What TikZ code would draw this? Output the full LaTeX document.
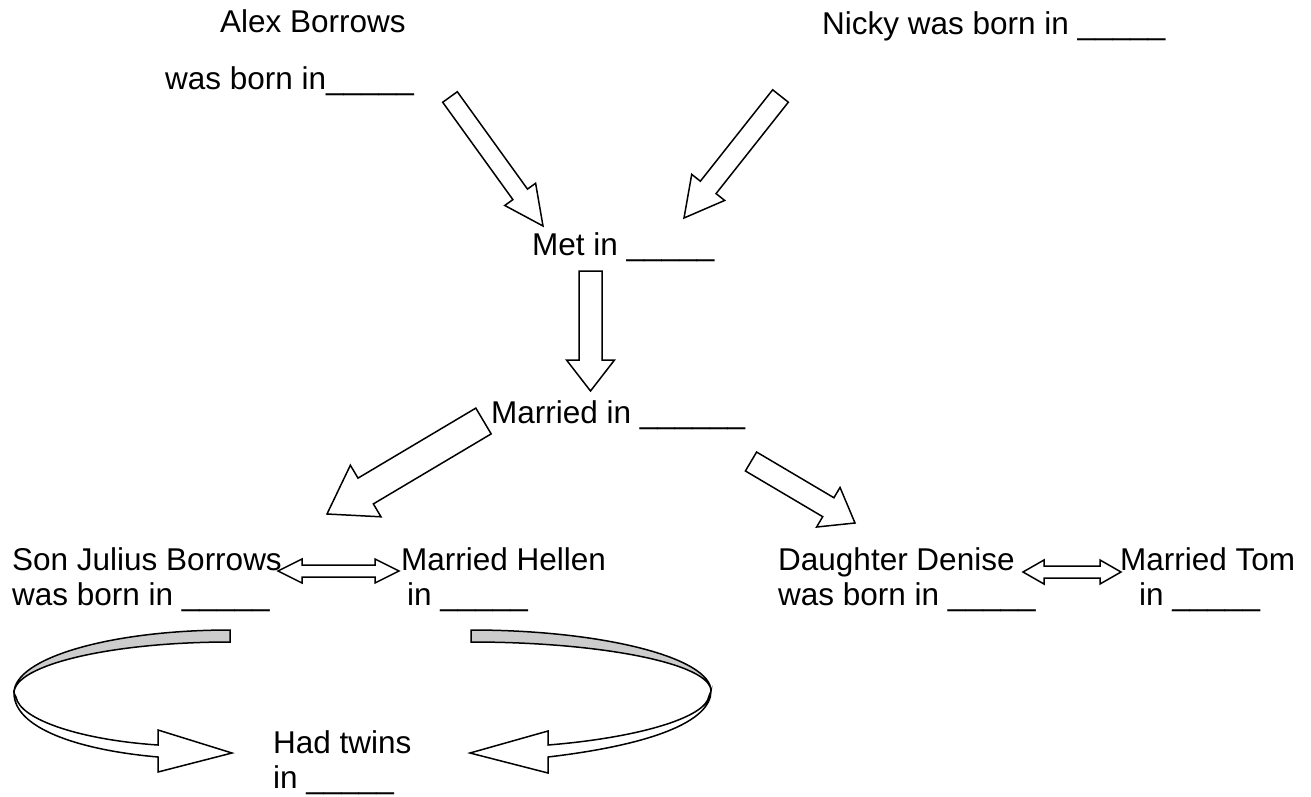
\documentclass[tikz,border=0pt]{standalone}
\usepackage{fontspec}
\setmainfont{Liberation Sans}
\usetikzlibrary{calc}

\tikzset{
  lbl/.style={anchor=base west, inner sep=0pt, align=left,
    font=\fontsize{31.5}{35}\selectfont},
  blk/.style={draw, line width=1.5pt, fill=white, line join=miter},
}

% block arrow: tail, tip, shaft half width, head half width, head length
\newcommand{\blockarrow}[5]{%
  \coordinate (hb) at ($(#2)!#5!(#1)$);
  \draw[blk] ($(#1)!#3!90:(#2)$) -- ($(hb)!#3!90:(#2)$) -- ($(hb)!#4!90:(#2)$) -- (#2)
    -- ($(hb)!#4!-90:(#2)$) -- ($(hb)!#3!-90:(#2)$) -- ($(#1)!#3!-90:(#2)$) -- cycle;
}
% arrow with two heads
\newcommand{\dblarrow}[5]{%
  \coordinate (ha) at ($(#1)!#5!(#2)$);
  \coordinate (hb) at ($(#2)!#5!(#1)$);
  \draw[blk] (#1) -- ($(ha)!#4!90:(#2)$) -- ($(ha)!#3!90:(#2)$) -- ($(hb)!#3!-90:(#1)$)
    -- ($(hb)!#4!-90:(#1)$) -- (#2) -- ($(hb)!#4!90:(#1)$) -- ($(hb)!#3!90:(#1)$)
    -- ($(ha)!#3!-90:(#2)$) -- ($(ha)!#4!-90:(#2)$) -- cycle;
}

\begin{document}
\begin{tikzpicture}[x=1pt,y=-1pt]
  \useasboundingbox (0,0) rectangle (1311,797);

  % texts (two-line ones are placed at the baseline of their last line)
  \node[lbl] (alex) at (220,33) {Alex Borrows};
  \node[lbl] (alexborn) at (165,90) {was born in\_\_\_\_\_};
  \node[lbl] (nicky) at (822,35) {Nicky was born in \_\_\_\_\_};
  \node[lbl] (met) at (532,255) {Met in \_\_\_\_\_};
  \node[lbl] (married) at (491,423) {Married in \_\_\_\_\_\_};
  \node[lbl] (son) at (12,605) {Son Julius Borrows\\was born in \_\_\_\_\_};
  \node[lbl] (hellen) at (401,605) {Married Hellen\\\hspace*{6pt}in \_\_\_\_\_};
  \node[lbl] (denise) at (778,605) {Daughter Denise\\was born in \_\_\_\_\_};
  \node[lbl] (tom) at (1120,605) {Married Tom\\\hspace*{19pt}in \_\_\_\_\_};
  \node[lbl] (twins) at (273,788) {Had twins\\in \_\_\_\_\_};

  % arrow ends
  \coordinate (alexA) at (450,97);    \coordinate (alexB) at (543,226);
  \coordinate (nickyA) at (780.5,96); \coordinate (nickyB) at (684,218);
  \coordinate (metA) at (590.5,271);  \coordinate (metB) at (590.5,391);
  \coordinate (sonA) at (483.5,421);  \coordinate (sonB) at (327,514);
  \coordinate (daugA) at (751,461.5); \coordinate (daugB) at (855,523);
  \coordinate (hellA) at (278,571);   \coordinate (hellB) at (399,571);
  \coordinate (tomA) at (1023,572);   \coordinate (tomB) at (1121,572);

  \foreach \a/\b/\s/\h/\l in {alexA/alexB/9pt/19pt/39pt, nickyA/nickyB/10pt/21pt/39pt,
      metA/metB/11.5pt/24pt/31pt, sonA/sonB/15pt/30pt/45pt, daugA/daugB/11pt/23pt/31pt}
    \blockarrow{\a}{\b}{\s}{\h}{\l};
  \dblarrow{hellA}{hellB}{6pt}{12pt}{24pt}
  \dblarrow{tomA}{tomB}{6pt}{12pt}{21pt}

  % curved arrows to the twins
  \draw[blk, fill=gray!40] (230,630) .. controls (110.7,630) and (14,658) .. (14,693)
    .. controls (14,665) and (110.7,642) .. (230,642) -- cycle;
  \draw[blk] (14,693) .. controls (14,728) and (78,750) .. (158,757) -- (158,772)
    -- (232,753) -- (158,730) -- (158,745) .. controls (82,740) and (20,720) .. (16,697) -- cycle;
  \draw[blk, fill=gray!40] (471,630) .. controls (603.5,630) and (711,658) .. (711,691)
    .. controls (711,664) and (603,642) .. (471,642) -- cycle;
  \draw[blk] (711,691) .. controls (711,722) and (650,745) .. (548,757) -- (548,773)
    -- (470,753) -- (548,731) -- (548,745) .. controls (636,738) and (706,718) .. (709,696) -- cycle;
\end{tikzpicture}
\end{document}
